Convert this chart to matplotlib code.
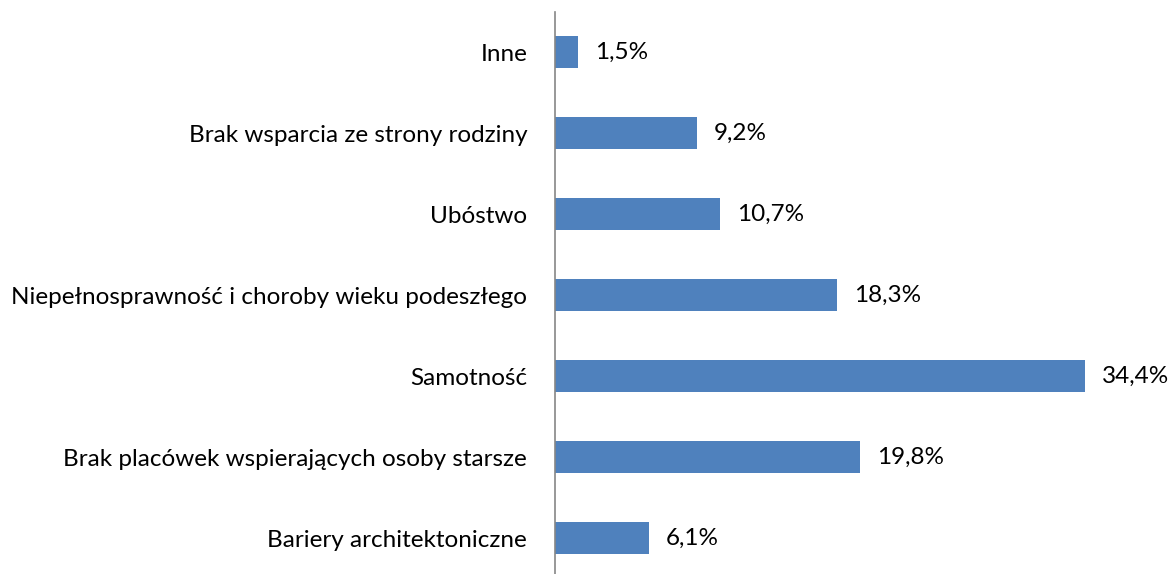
import matplotlib
matplotlib.use("Agg")
import matplotlib.pyplot as plt

categories = ["Bariery architektoniczne", "Brak placówek wspierających osoby starsze",
              "Samotność", "Niepełnosprawność i choroby wieku podeszłego",
              "Ubóstwo", "Brak wsparcia ze strony rodziny", "Inne"]
values = [6.1, 19.8, 34.4, 18.3, 10.7, 9.2, 1.5]

plt.rcParams['font.family'] = ['Lato', 'DejaVu Sans']

fig = plt.figure(figsize=(11.72, 5.74), dpi=100)
W, H = 1172, 574
left_px, right_px = 555, 1171
top_px, bot_px = 11.5, 574
ax = fig.add_axes([left_px / W, 1 - bot_px / H, (right_px - left_px) / W, (bot_px - top_px) / H])

y = list(range(len(categories)))
ax.barh(y, values, height=0.4, color="#4F81BD", zorder=2)
ax.set_xlim(0, (right_px - left_px) / 15.4)
ax.set_ylim(-0.444, 6.5)
ax.set_yticks(y)
ax.set_yticklabels(categories, fontsize=17.5, color="#000000")
ax.tick_params(axis="y", length=0, pad=20)
ax.set_xticks([])
for s in ["top", "right", "bottom"]:
    ax.spines[s].set_visible(False)
ax.spines["left"].set_color("#868686")
ax.spines["left"].set_linewidth(1.2)

for yi, v in zip(y, values):
    ax.text(v + 1.1, yi, f"{v:.1f}%".replace(".", ","), va="center", ha="left", fontsize=17.5)

fig.savefig("out.png", dpi=100)
